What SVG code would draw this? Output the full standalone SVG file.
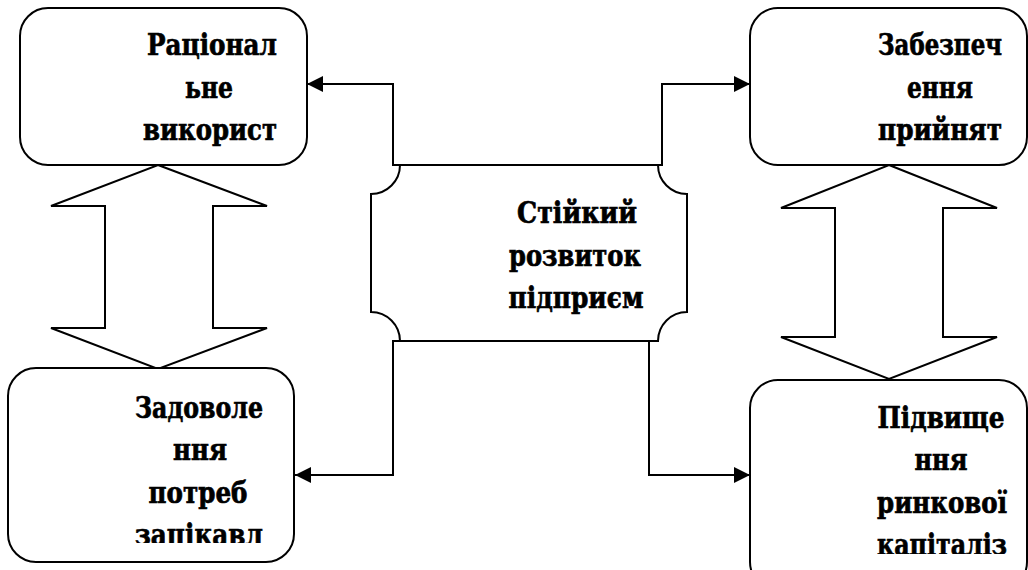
<svg xmlns="http://www.w3.org/2000/svg" width="1028" height="570" viewBox="0 0 1028 570">
  <style>
    .box { fill: #fff; stroke: #000; stroke-width: 2; }
    .dbl { fill: #fff; stroke: #000; stroke-width: 2; stroke-linejoin: miter; }
    .conn { fill: none; stroke: #000; stroke-width: 2; }
    .lbl { font-family: 'DejaVu Serif', serif; font-weight: bold; font-size: 29px; fill: #000; stroke: #000; stroke-width: 0.7; text-anchor: middle; }
  </style>
  <defs>
    <marker id="arrow" markerUnits="userSpaceOnUse" markerWidth="16" markerHeight="16" viewBox="0 0 16 16" refX="16" refY="8" orient="auto">
      <path d="M0,0 L16,8 L0,16 Z" fill="#000"/>
    </marker>
    <clipPath id="clipBL"><rect x="8" y="368" width="286" height="175"/></clipPath>
    <clipPath id="clipBR"><rect x="750" y="380" width="278" height="174"/></clipPath>
  </defs>

  <rect width="1028" height="570" fill="#fff"/>

  <!-- two-headed block arrows between the side boxes -->
  <g id="link-left">
    <path class="dbl" d="M158,165 L267,206 L213,206 L213,328 L267,328 L158,369 L51,328 L105,328 L105,206 L51,206 Z"/>
  </g>
  <g id="link-right">
    <path class="dbl" d="M889,165 L997,208 L943,208 L943,337 L997,337 L889,379 L781,337 L835,337 L835,208 L781,208 Z"/>
  </g>

  <!-- central plaque -->
  <g id="center">
    <path class="box" d="M400,165 L658,165 A29,29 0 0 0 687,194 L687,312 A29,29 0 0 0 658,341 L400,341 A29,29 0 0 0 371,312 L371,194 A29,29 0 0 0 400,165 Z"/>
    <text class="lbl" x="577" y="223" textLength="120" lengthAdjust="spacingAndGlyphs">Стійкий</text>
    <text class="lbl" x="575" y="266" textLength="132" lengthAdjust="spacingAndGlyphs">розвиток</text>
    <text class="lbl" x="576" y="308" textLength="135" lengthAdjust="spacingAndGlyphs">підприєм</text>
  </g>

  <g id="top-left">
    <rect class="box" x="20" y="8" width="287" height="157" rx="28" ry="28"/>
    <text class="lbl" x="212" y="55" textLength="130" lengthAdjust="spacingAndGlyphs">Раціонал</text>
    <text class="lbl" x="209" y="98" textLength="48" lengthAdjust="spacingAndGlyphs">ьне</text>
    <text class="lbl" x="210" y="140" textLength="134" lengthAdjust="spacingAndGlyphs">використ</text>
  </g>

  <g id="top-right">
    <rect class="box" x="750" y="8" width="277" height="157" rx="28" ry="28"/>
    <text class="lbl" x="940" y="55" textLength="124" lengthAdjust="spacingAndGlyphs">Забезпеч</text>
    <text class="lbl" x="940" y="98" textLength="66" lengthAdjust="spacingAndGlyphs">ення</text>
    <text class="lbl" x="940" y="140" textLength="124" lengthAdjust="spacingAndGlyphs">прийнят</text>
  </g>

  <g id="bottom-left">
    <rect class="box" x="8" y="368" width="286" height="194" rx="28" ry="28"/>
    <g clip-path="url(#clipBL)">
      <text class="lbl" x="199" y="418" textLength="128" lengthAdjust="spacingAndGlyphs">Задоволе</text>
      <text class="lbl" x="200" y="460" textLength="54" lengthAdjust="spacingAndGlyphs">ння</text>
      <text class="lbl" x="198" y="503" textLength="99" lengthAdjust="spacingAndGlyphs">потреб</text>
      <text class="lbl" x="199" y="545" textLength="128" lengthAdjust="spacingAndGlyphs">зацікавл</text>
    </g>
  </g>

  <g id="bottom-right">
    <rect class="box" x="750" y="380" width="277" height="210" rx="28" ry="28"/>
    <g clip-path="url(#clipBR)">
      <text class="lbl" x="941" y="428" textLength="127" lengthAdjust="spacingAndGlyphs">Підвище</text>
      <text class="lbl" x="941" y="470" textLength="53" lengthAdjust="spacingAndGlyphs">ння</text>
      <text class="lbl" x="942" y="513" textLength="130" lengthAdjust="spacingAndGlyphs">ринкової</text>
      <text class="lbl" x="942" y="555" textLength="130" lengthAdjust="spacingAndGlyphs">капіталіз</text>
    </g>
  </g>

  <!-- elbow connectors from the plaque to each box -->
  <g id="connectors">
    <path class="conn" marker-end="url(#arrow)" d="M400,165 H393 V84 H307"/>
    <path class="conn" marker-end="url(#arrow)" d="M658,165 H662 V84 H750"/>
    <path class="conn" marker-end="url(#arrow)" d="M400,341 H393 V475 H295"/>
    <path class="conn" marker-end="url(#arrow)" d="M658,341 H649 V475 H750"/>
  </g>
</svg>
